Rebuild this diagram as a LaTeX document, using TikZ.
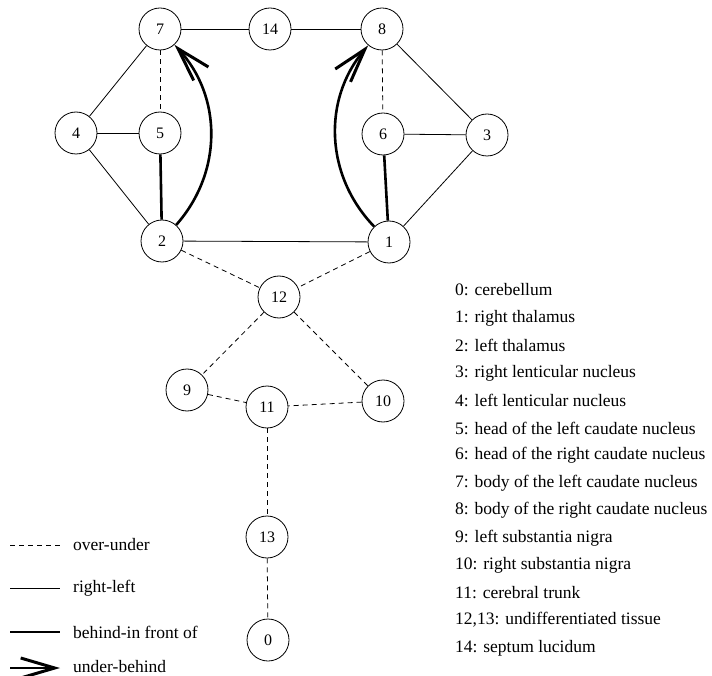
\documentclass[tikz,border=0pt]{standalone}
\usepackage{fontspec}
\setmainfont{Liberation Serif}
\usetikzlibrary{arrows.meta}
\begin{document}
\begin{tikzpicture}[x=1pt,y=-1pt,
  reg/.style={circle,draw,line width=0.8pt,minimum size=42pt,inner sep=0pt,font=\fontsize{16}{18}\selectfont},
  ou/.style={line width=0.8pt,dash pattern=on 5pt off 4pt},
  rl/.style={line width=0.8pt},
  bf/.style={line width=2.6pt},
  ub/.style={line width=2.6pt,-{Straight Barb[length=34pt,width=20pt,line width=3pt]}},
  lbl/.style={anchor=west,inner sep=0pt,font=\fontsize{17.5}{20}\selectfont}]
\useasboundingbox (0,0) rectangle (712,676);
\node[reg] (n7) at (160,29) {7};
\node[reg] (n14) at (270,29) {14};
\node[reg] (n8) at (382,29) {8};
\node[reg] (n4) at (76,133) {4};
\node[reg] (n5) at (160,133) {5};
\node[reg] (n6) at (383,134) {6};
\node[reg] (n3) at (487,135) {3};
\node[reg] (n2) at (162,241) {2};
\node[reg] (n1) at (389,242) {1};
\node[reg] (n12) at (279,297) {12};
\node[reg] (n9) at (187,390) {9};
\node[reg] (n10) at (383,401) {10};
\node[reg] (n11) at (267,407) {11};
\node[reg] (n13) at (267,537) {13};
\node[reg] (n0) at (268,640) {0};
% right-left
\draw[rl] (n7) -- (n14);
\draw[rl] (n14) -- (n8);
\draw[rl] (n7) -- (n4);
\draw[rl] (n4) -- (n5);
\draw[rl] (n4) -- (n2);
\draw[rl] (n2) -- (n1);
\draw[rl] (n8) -- (n3);
\draw[rl] (n6) -- (n3);
\draw[rl] (n3) -- (n1);
% over-under
\draw[ou] (n7) -- (n5);
\draw[ou] (n8) -- (n6);
\draw[ou] (n2) -- (n12);
\draw[ou] (n1) -- (n12);
\draw[ou] (n12) -- (n9);
\draw[ou] (n12) -- (n10);
\draw[ou] (n9) -- (n11);
\draw[ou] (n10) -- (n11);
\draw[ou] (n11) -- (n13);
\draw[ou] (n13) -- (n0);
% behind-in front of
\draw[bf] (n5) -- (n2);
\draw[bf] (n6) -- (n1);
% under-behind
\draw[ub] (n2) to[bend right=42] (n7);
\draw[ub] (n1) to[bend left=42] (n8);
% legend
\coordinate (l1a) at (10,545); \coordinate (l1b) at (60,545);
\coordinate (l2a) at (10,588); \coordinate (l2b) at (60,588);
\coordinate (l3a) at (10,632); \coordinate (l3b) at (60,632);
\coordinate (l4a) at (10,668); \coordinate (l4b) at (60,668);
\draw[ou] (l1a) -- (l1b);
\draw[rl] (l2a) -- (l2b);
\draw[bf] (l3a) -- (l3b);
\draw[ub] (l4a) -- (l4b);
\node[lbl] (t1) at (73,545) {over-under};
\node[lbl] (t2) at (73,588) {right-left};
\node[lbl] (t3) at (73,632) {behind-in front of};
\node[lbl] (t4) at (73,667) {under-behind};
% key
\node[lbl] (k0) at (455,290) {0: cerebellum};
\node[lbl] (k1) at (455,318) {1: right thalamus};
\node[lbl] (k2) at (455,345) {2: left thalamus};
\node[lbl] (k3) at (455,373) {3: right lenticular nucleus};
\node[lbl] (k4) at (455,400) {4: left lenticular nucleus};
\node[lbl] (k5) at (455,428) {5: head of the left caudate nucleus};
\node[lbl] (k6) at (455,455) {6: head of the right caudate nucleus};
\node[lbl] (k7) at (455,483) {7: body of the left caudate nucleus};
\node[lbl] (k8) at (455,510) {8: body of the right caudate nucleus};
\node[lbl] (k9) at (455,538) {9: left substantia nigra};
\node[lbl] (k10) at (455,565) {10: right substantia nigra};
\node[lbl] (k11) at (455,593) {11: cerebral trunk};
\node[lbl] (k12) at (455,620) {12,13: undifferentiated tissue};
\node[lbl] (k13) at (455,648) {14: septum lucidum};
\end{tikzpicture}
\end{document}
